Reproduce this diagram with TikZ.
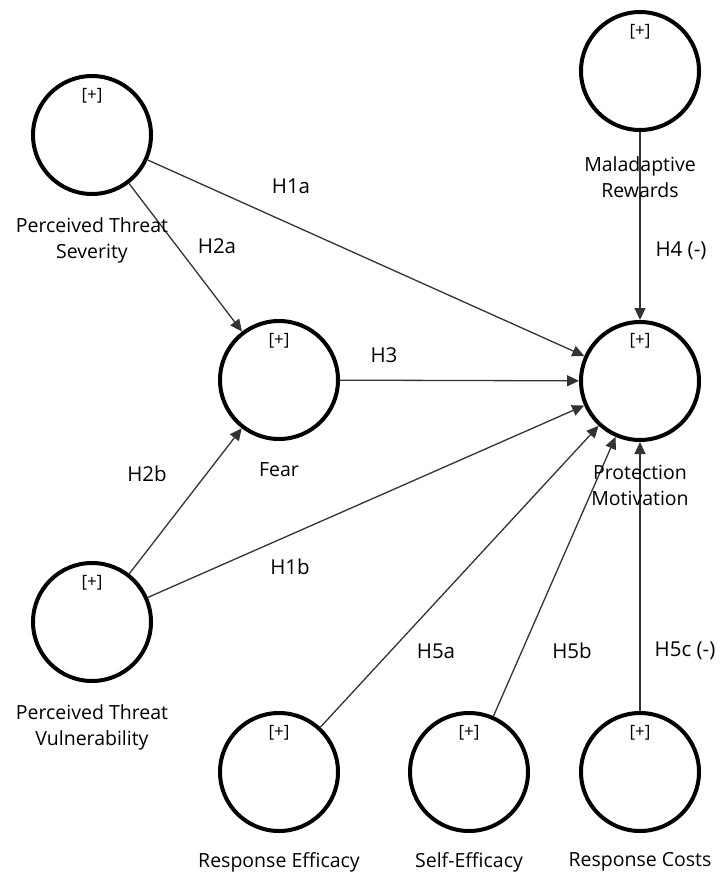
\documentclass[tikz,border=0pt]{standalone}
\usepackage{fontspec}
\setmainfont{Open Sans}
\usetikzlibrary{arrows.meta}
\tikzset{
  latent/.style={circle,draw=black,line width=4pt,minimum size=118pt,inner sep=0pt,fill=white},
  plus/.style={font=\fontsize{17}{20}\selectfont,text=black},
  lbl/.style={font=\fontsize{19.5}{26}\selectfont,align=center,text=black},
  hyp/.style={font=\fontsize{20.5}{24}\selectfont,text=black},
  path/.style={draw=black!80,line width=1.3pt,-{Triangle[length=12pt,width=11pt]}}
}
\begin{document}
\begin{tikzpicture}[x=1pt,y=-1pt]
\useasboundingbox (0,0) rectangle (724,877);
% constructs
\node[latent] (pts) at (92,135) {};
\node[latent] (mr)  at (640,71) {};
\node[latent] (fear) at (279,380) {};
\node[latent] (pm) at (640,381) {};
\node[latent] (ptv) at (92,622) {};
\node[latent] (re) at (279,772) {};
\node[latent] (se) at (469,772) {};
\node[latent] (rc) at (640,772) {};
% paths
\draw[path] (pts) -- (pm);
\draw[path] (pts) -- (fear);
\draw[path] (fear) -- (pm);
\draw[path] (ptv) -- (fear);
\draw[path] (ptv) -- (pm);
\draw[path] (mr) -- (pm);
\draw[path] (re) -- (pm);
\draw[path] (se) -- (pm);
\draw[path] (rc) -- (pm);
% [+] markers
\node[plus] (p1) at (92,96) {[+]};
\node[plus] (p2) at (640,32) {[+]};
\node[plus] (p3) at (279,341) {[+]};
\node[plus] (p4) at (640,341) {[+]};
\node[plus] (p5) at (92,583) {[+]};
\node[plus] (p6) at (279,733) {[+]};
\node[plus] (p7) at (469,733) {[+]};
\node[plus] (p8) at (640,733) {[+]};
% labels
\node[lbl] (l1) at (92,240) {Perceived Threat\\Severity};
\node[lbl] (l2) at (640,177) {Maladaptive\\Rewards};
\node[lbl] (l3) at (279,470) {Fear};
\node[lbl] (l4) at (640,485) {Protection\\Motivation};
\node[lbl] (l5) at (92,727) {Perceived Threat\\Vulnerability};
\node[lbl] (l6) at (279,862) {Response Efficacy};
\node[lbl] (l7) at (469,862) {Self-Efficacy};
\node[lbl] (l8) at (640,862) {Response Costs};
% hypotheses
\node[hyp] (h1a) at (291,186) {H1a};
\node[hyp] (h2a) at (217,246) {H2a};
\node[hyp] (h3) at (384,355) {H3};
\node[hyp] (h2b) at (147,474) {H2b};
\node[hyp] (h1b) at (290,567) {H1b};
\node[hyp] (h4) at (681,251) {H4 (-)};
\node[hyp] (h5a) at (436,651) {H5a};
\node[hyp] (h5b) at (572,651) {H5b};
\node[hyp] (h5c) at (685,651) {H5c (-)};
\end{tikzpicture}
\end{document}
